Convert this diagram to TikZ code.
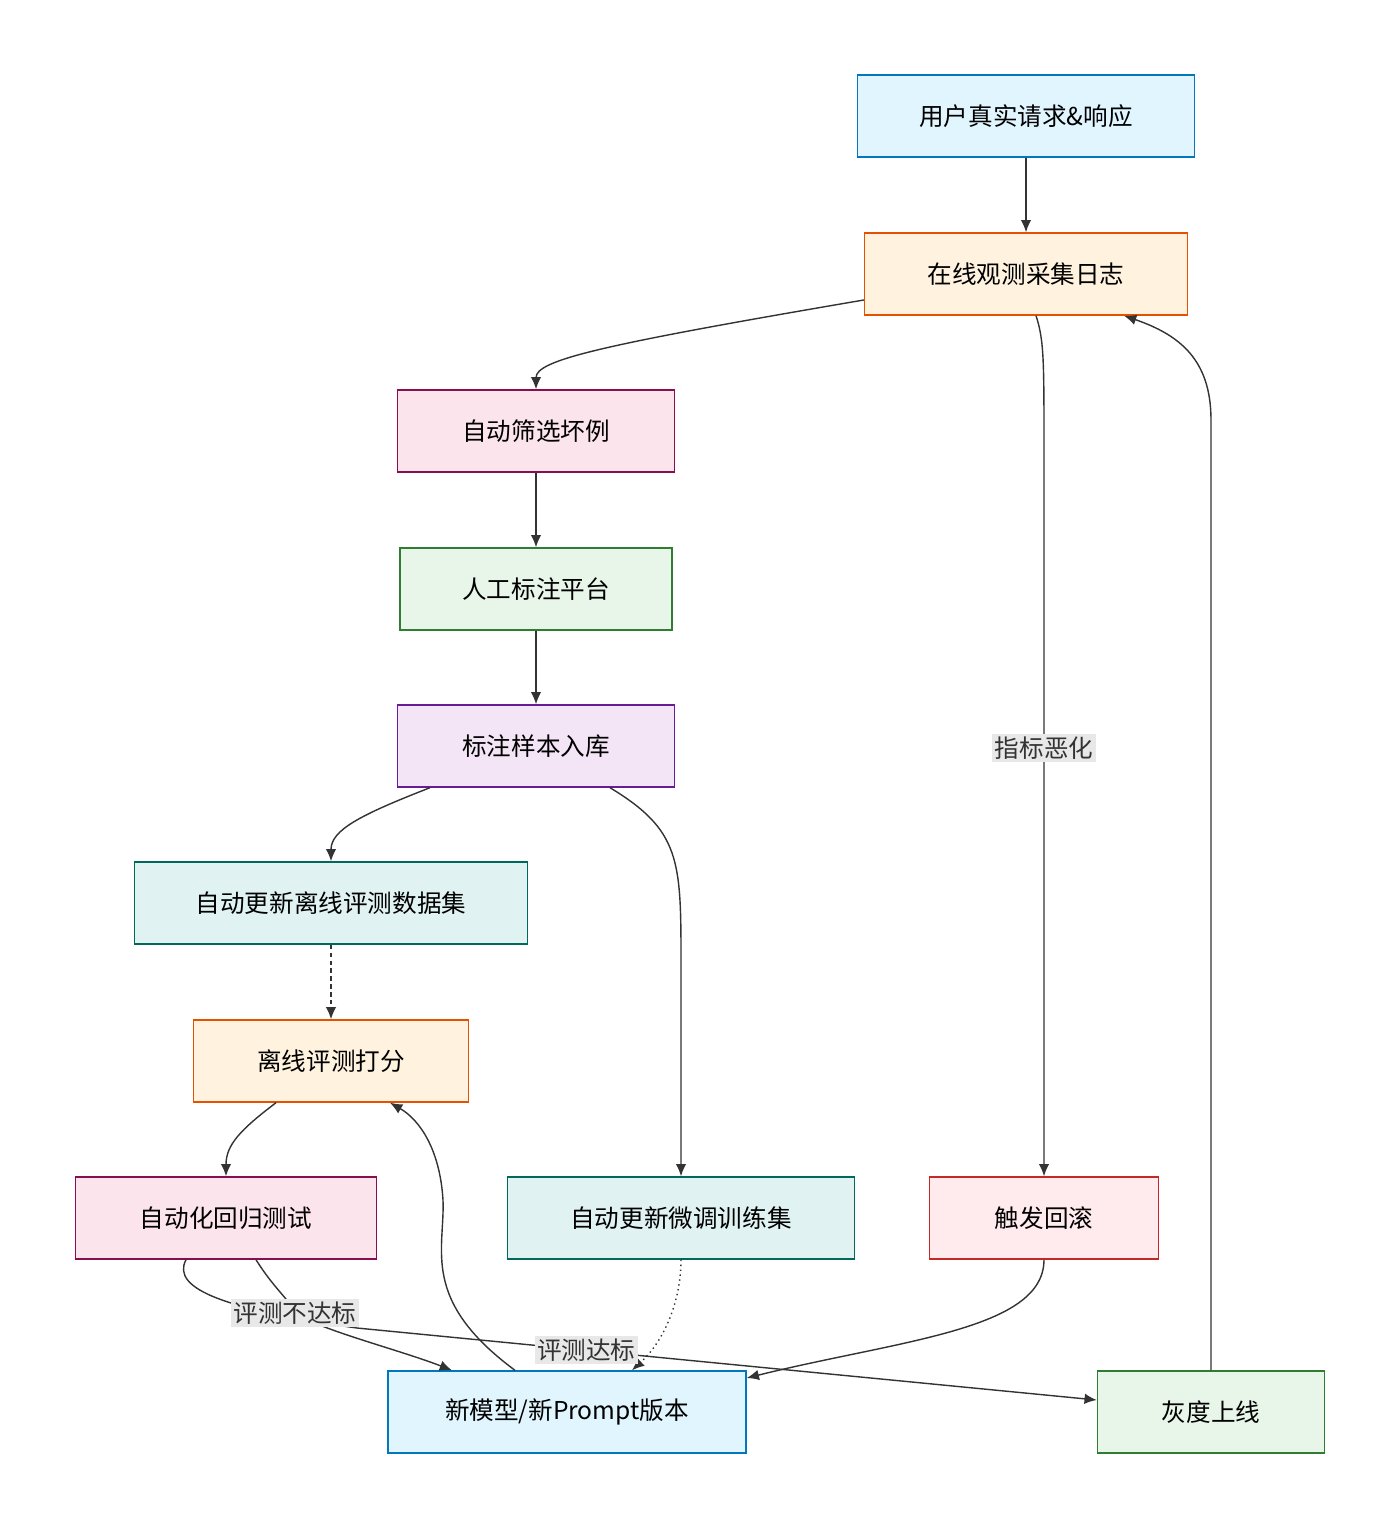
\documentclass[tikz,border=0pt]{standalone}
\usepackage{fontspec}
\setmainfont{Noto Sans CJK SC}
\usetikzlibrary{arrows.meta}
\definecolor{bluef}{HTML}{E1F5FE}\definecolor{blued}{HTML}{0277BD}
\definecolor{orangef}{HTML}{FFF3E0}\definecolor{oranged}{HTML}{E65100}
\definecolor{pinkf}{HTML}{FCE4EC}\definecolor{pinkd}{HTML}{880E4F}
\definecolor{greenf}{HTML}{E8F5E9}\definecolor{greend}{HTML}{2E7D32}
\definecolor{purplef}{HTML}{F3E5F5}\definecolor{purpled}{HTML}{6A1B9A}
\definecolor{tealf}{HTML}{E0F2F1}\definecolor{teald}{HTML}{00695C}
\definecolor{redf}{HTML}{FFEBEE}\definecolor{redd}{HTML}{C62828}
\definecolor{edgec}{HTML}{333333}
\begin{document}
\begin{tikzpicture}[x=0.02cm,y=-0.02cm]
\tikzset{every node/.style={font=\fontsize{14}{16}\selectfont,inner sep=0},
  box/.style={draw,thick,minimum height=1.64cm},
  lbl/.style={fill=black!9,inner sep=1.5pt},
  flow/.style={-{Latex[length=7pt,width=6pt]},edgec,thick}}
\useasboundingbox (0,0) rectangle (1400,1529);
    \node[box,fill=bluef,draw=blued,minimum width=6.74cm] (user) at (1026,116) {用户真实请求\&响应};
    \node[box,fill=orangef,draw=oranged,minimum width=6.46cm] (log) at (1026,274) {在线观测采集日志};
    \node[box,fill=pinkf,draw=pinkd,minimum width=5.54cm] (filter) at (536,431) {自动筛选坏例};
    \node[box,fill=greenf,draw=greend,minimum width=5.44cm] (label) at (536,589) {人工标注平台};
    \node[box,fill=purplef,draw=purpled,minimum width=5.54cm] (store) at (536,746) {标注样本入库};
    \node[box,fill=tealf,draw=teald,minimum width=7.86cm] (evalset) at (331,903) {自动更新离线评测数据集};
    \node[box,fill=orangef,draw=oranged,minimum width=5.5cm] (score) at (331,1061) {离线评测打分};
    \node[box,fill=pinkf,draw=pinkd,minimum width=6.02cm] (regress) at (226,1218) {自动化回归测试};
    \node[box,fill=tealf,draw=teald,minimum width=6.94cm] (trainset) at (681,1218) {自动更新微调训练集};
    \node[box,fill=redf,draw=redd,minimum width=4.58cm] (rollback) at (1044,1218) {触发回滚};
    \node[box,fill=bluef,draw=blued,minimum width=7.16cm] (newver) at (567,1412) {新模型/新Prompt版本};
    \node[box,fill=greenf,draw=greend,minimum width=4.54cm] (gray) at (1211,1412) {灰度上线};

    \draw[flow] (user) -- (log);
    \draw[flow] (log.west|-0,300) .. controls (600,345) and (536,360) .. (filter.north);
    \draw[flow] (filter) -- (label);
    \draw[flow] (label) -- (store);
    \draw[flow] (store.south-|430,0) .. controls (360,815) and (331,830) .. (evalset.north);
    \draw[flow] (store.south-|610,0) .. controls (680,830) and (681,860) .. (681,960) -- (trainset.north);
    \draw[flow] (log.south-|1036,0) .. controls (1044,340) and (1044,360) .. (1044,450) -- (rollback.north)
        node[lbl,pos=.41] (worse) {指标恶化};
    \draw[flow,dash pattern=on 2.5pt off 2pt] (evalset) -- (score);
    \draw[flow] (score.south-|276,0) .. controls (240,1130) and (226,1145) .. (regress.north);
    \draw[flow,dotted] (trainset.south) .. controls (681,1300) and (665,1340) .. (newver.north-|632,0);
    \draw[flow] (regress.south-|186,0) .. controls (170,1290) and (230,1310) .. (357,1328)
        -- (gray.west|-0,1400) node[lbl,pos=.31] (pass) {评测达标};
    \draw[flow] (regress.south-|256,0) .. controls (275,1290) and (290,1300) .. (295,1313)
        node[lbl] (fail) {评测不达标} .. controls (320,1330) and (400,1350) .. (newver.north-|452,0);
    \draw[flow] (newver.north-|515,0) .. controls (420,1300) and (445,1250) .. (443,1200)
        .. controls (440,1150) and (420,1120) .. (score.south-|390,0);
    \draw[flow] (rollback.south) .. controls (1044,1330) and (900,1340) .. (newver.north east|-0,1378);
    \draw[flow] (gray.north) -- (1211,420) .. controls (1211,360) and (1180,335) .. (log.south-|1124,0);
\end{tikzpicture}
\end{document}
